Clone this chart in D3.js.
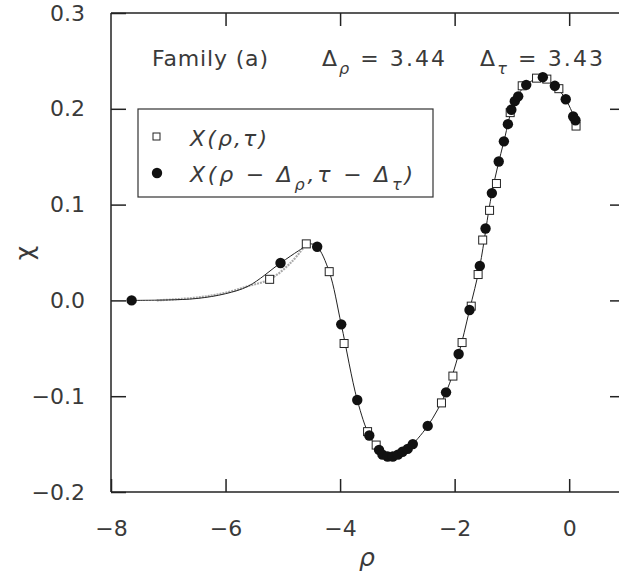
<!DOCTYPE html>
<html>
<head>
<meta charset="utf-8">
<script src="https://cdn.jsdelivr.net/npm/d3@7"></script>
<style>
  html, body { margin: 0; padding: 0; background: #fff; }
  svg { display: block; }
  text { font-family: "DejaVu Sans", sans-serif; fill: #3a3a3a; }
</style>
</head>
<body>
<svg id="chart" width="619" height="573"></svg>
<script>
// Open squares: X(rho, tau)
const squareRho = [-5.23, -4.59, -4.19, -3.93, -3.52, -3.37, -2.23, -2.03, -1.87, -1.71,
                   -1.59, -1.51, -1.39, -1.27, -1.03, -0.82, -0.57, -0.39, -0.18, 0.12];
const squareChi = [0.022, 0.059, 0.030, -0.045, -0.137, -0.151, -0.107, -0.079, -0.044, -0.006,
                   0.027, 0.063, 0.094, 0.122, 0.196, 0.224, 0.232, 0.231, 0.221, 0.182];

// Filled circles: X(rho - d_rho, tau - d_tau)
const circleRho = [-7.64, -5.04, -4.40, -3.98, -3.70, -3.49, -3.32, -3.26, -3.17, -3.08,
                   -2.99, -2.91, -2.82, -2.73, -2.47, -2.15, -1.93, -1.74, -1.56, -1.46,
                   -1.35, -1.23, -1.14, -1.07, -1.01, -0.95, -0.89, -0.75, -0.46, -0.25,
                   -0.06, 0.07, 0.11];
const circleChi = [0.000, 0.039, 0.056, -0.025, -0.104, -0.141, -0.156, -0.161, -0.163, -0.163,
                   -0.161, -0.158, -0.155, -0.150, -0.131, -0.096, -0.056, -0.010, 0.036, 0.075,
                   0.112, 0.145, 0.166, 0.184, 0.199, 0.208, 0.213, 0.225, 0.233, 0.224,
                   0.210, 0.192, 0.188];

// Continuous curves: the shifted-family curve (black) and the flat tail of the unshifted one (grey)
const blackRho = [-7.64, -7.0, -6.5, -6.0, -5.6, -5.04, -4.72, -4.52, -4.40, -4.19, -3.98, -3.70, -3.49,
                  -3.32, -3.17, -3.01, -2.82, -2.47, -2.15, -1.93, -1.74, -1.56, -1.35, -1.14,
                  -0.95, -0.75, -0.46, -0.25, -0.06, 0.11];
const blackChi = [0.000, 0.0005, 0.002, 0.007, 0.015, 0.039, 0.052, 0.059, 0.056, 0.030, -0.025, -0.104, -0.141,
                  -0.156, -0.163, -0.162, -0.155, -0.131, -0.096, -0.056, -0.010, 0.036, 0.112, 0.166,
                  0.208, 0.225, 0.233, 0.224, 0.210, 0.188];
const greyRho = [-7.2, -6.5, -6.0, -5.6, -5.23, -4.85, -4.59];
const greyChi = [0.000, 0.003, 0.008, 0.015, 0.022, 0.040, 0.059];

const xTicks = [-8, -6, -4, -2, 0];
const yTicks = [0.3, 0.2, 0.1, 0.0, -0.1, -0.2];

const svg = d3.select("#chart");
const plotL = 111, plotR = 619, plotT = 13, plotB = 492;

const x = d3.scaleLinear().domain([-8, 0.87]).range([plotL, plotR]);
const y = d3.scaleLinear().domain([-0.2, 0.3]).range([plotB, plotT]);

// Frame
const frame = svg.append("g").attr("stroke", "#222").attr("stroke-width", 1.5).attr("fill", "none");
frame.append("line").attr("x1", plotL).attr("x2", plotL).attr("y1", plotT).attr("y2", plotB);
frame.append("line").attr("x1", plotL).attr("x2", plotR).attr("y1", plotB).attr("y2", plotB);
frame.append("line").attr("x1", plotL).attr("x2", plotR).attr("y1", plotT).attr("y2", plotT);

// Axes with inward ticks
const fmtY = v => (v === 0 ? "0.0" : d3.format(".1f")(v)).replace("-", "\u2212");
const fmtX = v => String(v).replace("-", "\u2212");

const axB = svg.append("g").attr("transform", `translate(0,${plotB})`)
  .call(d3.axisBottom(x).tickValues(xTicks).tickSize(-13).tickPadding(28).tickFormat(fmtX));
const axT = svg.append("g").attr("transform", `translate(0,${plotT})`)
  .call(d3.axisTop(x).tickValues(xTicks.slice(1)).tickSize(-13).tickFormat(""));
const axL = svg.append("g").attr("transform", `translate(${plotL},0)`)
  .call(d3.axisLeft(y).tickValues(yTicks).tickSize(-15).tickPadding(24).tickFormat(fmtY));
const axR = svg.append("g").attr("transform", `translate(${plotR},0)`)
  .call(d3.axisRight(y).tickValues([0.2, 0.1, 0.0, -0.1]).tickSize(-9).tickFormat(""));

[axB, axT, axL, axR].forEach(g => {
  g.select(".domain").remove();
  g.selectAll(".tick line").attr("stroke", "#222").attr("stroke-width", 1.5);
  g.selectAll(".tick text").attr("font-size", 22).attr("fill", "#3a3a3a")
    .attr("font-family", "DejaVu Sans, sans-serif");
});
axL.selectAll(".tick text").attr("x", -26);

// Axis titles
svg.append("text").attr("x", 367).attr("y", 566).attr("text-anchor", "middle")
  .attr("font-size", 25).attr("font-style", "italic").text("ρ");
svg.append("text").attr("transform", "translate(33,253) rotate(-90)")
  .attr("text-anchor", "middle").attr("font-size", 25).text("χ");

// Curves
const line = d3.line().x(d => x(d[0])).y(d => y(d[1])).curve(d3.curveCatmullRom);
svg.append("path").datum(d3.zip(greyRho, greyChi)).attr("d", line)
  .attr("fill", "none").attr("stroke", "#aaa").attr("stroke-width", 2.2)
  .attr("stroke-dasharray", "2,1");
svg.append("path").datum(d3.zip(blackRho, blackChi)).attr("d", line)
  .attr("fill", "none").attr("stroke", "#222").attr("stroke-width", 1);

// Markers
svg.append("g").selectAll("rect").data(d3.zip(squareRho, squareChi)).join("rect")
  .attr("x", d => x(d[0]) - 4).attr("y", d => y(d[1]) - 4)
  .attr("width", 8).attr("height", 8)
  .attr("fill", "#fff").attr("stroke", "#222").attr("stroke-width", 1);
svg.append("g").selectAll("circle").data(d3.zip(circleRho, circleChi)).join("circle")
  .attr("cx", d => x(d[0])).attr("cy", d => y(d[1])).attr("r", 5.2)
  .attr("fill", "#111");

// Annotations
svg.append("text").attr("x", 152).attr("y", 66).attr("font-size", 22)
  .attr("textLength", 116).attr("lengthAdjust", "spacing").text("Family (a)");
const ann = svg.append("text").attr("x", 322).attr("y", 66).attr("font-size", 22)
  .attr("textLength", 123).attr("lengthAdjust", "spacing");
ann.append("tspan").text("Δ");
ann.append("tspan").attr("dy", 8).attr("font-size", 16).attr("font-style", "italic").text("ρ");
ann.append("tspan").attr("dy", -8).text(" = 3.44");
const ann2 = svg.append("text").attr("x", 480).attr("y", 66).attr("font-size", 22)
  .attr("textLength", 123).attr("lengthAdjust", "spacing");
ann2.append("tspan").text("Δ");
ann2.append("tspan").attr("dy", 8).attr("font-size", 16).attr("font-style", "italic").text("τ");
ann2.append("tspan").attr("dy", -8).text(" = 3.43");

// Legend
const lg = svg.append("g");
lg.append("rect").attr("x", 138).attr("y", 109).attr("width", 295).attr("height", 88)
  .attr("fill", "#fff").attr("stroke", "#333").attr("stroke-width", 1.2);
lg.append("rect").attr("x", 153).attr("y", 133).attr("width", 7).attr("height", 7)
  .attr("fill", "#fff").attr("stroke", "#222").attr("stroke-width", 1);
lg.append("circle").attr("cx", 157).attr("cy", 173).attr("r", 5.2).attr("fill", "#111");
lg.append("text").attr("x", 190).attr("y", 146).attr("font-size", 22)
  .attr("font-style", "italic").attr("textLength", 77).attr("lengthAdjust", "spacing")
  .text("X(ρ,τ)");
const l2 = lg.append("text").attr("x", 190).attr("y", 182).attr("font-size", 22)
  .attr("font-style", "italic").attr("textLength", 223).attr("lengthAdjust", "spacing");
l2.append("tspan").text("X(ρ − Δ");
l2.append("tspan").attr("dy", 8).attr("font-size", 16).text("ρ");
l2.append("tspan").attr("dy", -8).text(",τ − Δ");
l2.append("tspan").attr("dy", 8).attr("font-size", 16).text("τ");
l2.append("tspan").attr("dy", -8).text(")");
</script>
</body>
</html>
